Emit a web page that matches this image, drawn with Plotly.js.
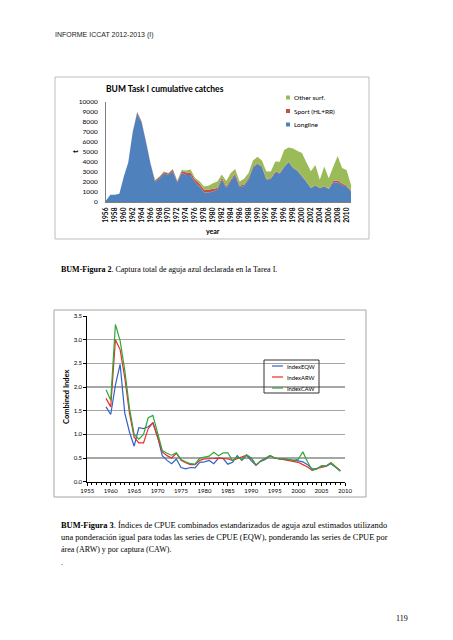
<!DOCTYPE html>
<html><head><meta charset="utf-8">
<script src="https://cdn.plot.ly/plotly-3.0.1.min.js"></script>
<style>html,body{margin:0;padding:0;background:#fff;}#chart{width:453px;height:640px;}</style>
</head><body><div id="chart"></div>
<script>
// ---- Figure 2: cumulative catches ----
const catchYears = [1956,1957,1958,1959,1960,1961,1962,1963,1964,1965,1966,1967,1968,1969,1970,1971,1972,1973,1974,1975,1976,1977,1978,1979,1980,1981,1982,1983,1984,1985,1986,1987,1988,1989,1990,1991,1992,1993,1994,1995,1996,1997,1998,1999,2000,2001,2002,2003,2004,2005,2006,2007,2008,2009,2010,2011];
const longline = [150,730,730,830,2540,3950,7000,8900,7950,5950,3800,2050,2350,2850,2700,3100,1950,2900,2700,2700,1950,1550,950,950,1050,1220,2250,1390,2100,2700,1500,1600,2250,3450,3800,3500,2250,2300,2950,2850,3500,4000,3400,3100,2550,2000,1380,1650,1380,1550,1290,1950,1950,1700,1550,1050];
const sport = [0,0,0,0,0,30,30,100,100,50,50,100,150,150,150,150,120,200,250,250,270,270,270,270,270,170,200,160,150,150,150,120,150,100,80,80,80,80,100,80,60,60,60,60,60,50,40,40,40,40,40,200,200,150,100,80];
const otherSurf = [0,0,0,0,0,0,0,0,0,0,0,50,50,50,50,50,50,100,200,300,170,250,330,400,550,660,300,550,650,450,400,600,500,600,650,570,720,670,1000,1100,1640,1400,1900,1940,2300,1900,1650,2000,800,1950,1050,1350,2450,1550,1550,570];
const catchNames = ['Longline','Sport (HL+RR)','Other surf.'];
const catchColors = ['#4F81BD','#C0504D','#9BBB59'];
const catchTickYears = [1956,1958,1960,1962,1964,1966,1968,1970,1972,1974,1976,1978,1980,1982,1984,1986,1988,1990,1992,1994,1996,1998,2000,2002,2004,2006,2008,2010];
const catchYTicks = [0,1000,2000,3000,4000,5000,6000,7000,8000,9000,10000];

// ---- Figure 3: combined indices ----
const idxYears = [1959,1960,1961,1962,1963,1964,1965,1966,1967,1968,1969,1970,1971,1972,1973,1974,1975,1976,1977,1978,1979,1980,1981,1982,1983,1984,1985,1986,1987,1988,1989,1990,1991,1992,1993,1994,1995,1996,1997,1998,1999,2000,2001,2002,2003,2004,2005,2006,2007,2008,2009];
const indexEQW = [1.58,1.42,2.04,2.48,1.45,1.05,0.75,1.14,1.12,1.16,1.24,0.95,0.55,0.45,0.38,0.48,0.30,0.27,0.30,0.29,0.41,0.42,0.45,0.38,0.50,0.49,0.37,0.41,0.55,0.45,0.56,0.44,0.35,0.43,0.47,0.55,0.50,0.48,0.48,0.47,0.45,0.44,0.42,0.36,0.27,0.27,0.33,0.33,0.38,0.31,0.23];
const indexARW = [1.76,1.58,3.00,2.79,2.20,1.45,0.94,0.82,0.82,1.12,1.25,0.96,0.63,0.55,0.50,0.60,0.45,0.40,0.36,0.36,0.45,0.48,0.48,0.49,0.50,0.49,0.48,0.45,0.49,0.52,0.56,0.49,0.35,0.44,0.49,0.55,0.50,0.48,0.47,0.45,0.42,0.41,0.36,0.31,0.24,0.28,0.30,0.33,0.40,0.31,0.23];
const indexCAW = [1.94,1.72,3.32,2.98,2.35,1.55,1.00,0.90,1.00,1.35,1.40,1.00,0.66,0.60,0.56,0.61,0.47,0.42,0.38,0.37,0.50,0.52,0.54,0.62,0.55,0.61,0.61,0.44,0.52,0.47,0.57,0.50,0.35,0.44,0.49,0.55,0.50,0.48,0.49,0.47,0.45,0.47,0.63,0.42,0.24,0.27,0.34,0.33,0.40,0.31,0.22];
const idxNames = ['IndexEQW','IndexARW','IndexCAW'];
const idxColors = ['#2F63C8','#EE2A24','#2EA83A'];
const idxXTicks = [1955,1960,1965,1970,1975,1980,1985,1990,1995,2000,2005,2010];
const idxYTicks = [0,0.5,1.0,1.5,2.0,2.5,3.0,3.5];

const W = 453, H = 640;
const px = x => x / W;
const py = y => 1 - y / H;

const catchSeries = [longline, sport, otherSurf];
const traces = [];
catchSeries.forEach((s, i) => {
  traces.push({x: catchYears, y: s, type: 'scatter', mode: 'none', stackgroup: 'catch',
    fillcolor: catchColors[i], name: catchNames[i], xaxis: 'x', yaxis: 'y',
    showlegend: false, hoverinfo: 'skip'});
});
const idxSeries = [indexEQW, indexARW, indexCAW];
idxSeries.forEach((s, i) => {
  traces.push({x: idxYears, y: s, type: 'scatter', mode: 'lines',
    line: {color: idxColors[i], width: 1.2}, name: idxNames[i], xaxis: 'x2', yaxis: 'y2',
    showlegend: false, hoverinfo: 'skip'});
});

const shapes = [
  {type: 'rect', xref: 'paper', yref: 'paper', x0: px(55), x1: px(369), y0: py(77), y1: py(239), line: {color: '#bdbdbd', width: 1}},
  {type: 'rect', xref: 'paper', yref: 'paper', x0: px(54), x1: px(366), y0: py(310), y1: py(497), line: {color: '#a6a6a6', width: 1}},
  {type: 'rect', xref: 'paper', yref: 'paper', x0: px(264), x1: px(319), y0: py(360), y1: py(393), line: {color: '#333', width: 1}}
];
const annotations = [];
const lblFont = {family: 'Lato, "Open Sans", sans-serif', color: '#000'};

// top legend (reverse stacking order)
[2, 1, 0].forEach((k, row) => {
  const yc = 97.5 + row * 13.5;
  shapes.push({type: 'rect', xref: 'paper', yref: 'paper', x0: px(286), x1: px(290), y0: py(yc + 2), y1: py(yc - 2), fillcolor: catchColors[k], line: {width: 0}});
  annotations.push({xref: 'paper', yref: 'paper', x: px(291.5), y: py(yc), xanchor: 'left', yanchor: 'middle', showarrow: false,
    text: catchNames[k], font: Object.assign({size: 6.5}, lblFont)});
});
// bottom legend
idxNames.forEach((n, i) => {
  const yc = 366 + i * 11;
  shapes.push({type: 'line', xref: 'paper', yref: 'paper', x0: px(272), x1: px(283), y0: py(yc), y1: py(yc), line: {color: idxColors[i], width: 1.2}});
  annotations.push({xref: 'paper', yref: 'paper', x: px(284.5), y: py(yc), xanchor: 'left', yanchor: 'middle', showarrow: false,
    text: n, font: Object.assign({size: 5.8}, lblFont)});
});

function txt(x, y, text, opts) {
  annotations.push(Object.assign({xref: 'paper', yref: 'paper', x: px(x), y: py(y), showarrow: false, text: text,
    xanchor: 'left', yanchor: 'middle'}, opts));
}
const serif = 'Liberation Serif, "Times New Roman", serif';
txt(53, 35, 'INFORME ICCAT 2012-2013 (I)', {font: {family: 'Liberation Sans, Arial, sans-serif', size: 7, color: '#222'}});
txt(165, 88.5, '<b>BUM Task I cumulative catches</b>', {xanchor: 'center', font: Object.assign({size: 8.5}, lblFont)});
txt(75, 152, '<b>t</b>', {xanchor: 'center', textangle: -90, font: Object.assign({size: 8}, lblFont)});
txt(213, 231, '<b>year</b>', {xanchor: 'center', font: Object.assign({size: 7}, lblFont)});
txt(66, 397, '<b>Combined Index</b>', {xanchor: 'center', textangle: -90, font: Object.assign({size: 7.5}, lblFont)});
txt(59, 269, '<b>BUM-Figura 2</b>. Captura total de aguja azul declarada en la Tarea I.', {font: {family: serif, size: 8, color: '#000'}});
txt(59, 525, '<b>BUM-Figura 3</b>. Índices de CPUE combinados estandarizados de aguja azul estimados utilizando', {font: {family: serif, size: 8.4, color: '#000'}});
txt(59, 537, 'una ponderación igual para todas las series de CPUE (EQW), ponderando las series de CPUE por', {font: {family: serif, size: 8.4, color: '#000'}});
txt(59, 549, 'área (ARW) y por captura (CAW).', {font: {family: serif, size: 8, color: '#000'}});
txt(59, 562, '.', {font: {family: serif, size: 8, color: '#000'}});
txt(402, 618, '119', {xanchor: 'center', font: {family: serif, size: 8, color: '#000'}});

const layout = {
  width: W, height: H, margin: {l: 0, r: 0, t: 0, b: 0},
  paper_bgcolor: '#fff', plot_bgcolor: 'rgba(0,0,0,0)', showlegend: false,
  font: lblFont,
  xaxis: {domain: [px(106), px(351)], range: [1956, 2011], anchor: 'y', tickmode: 'array', tickvals: catchTickYears,
    ticktext: catchTickYears.map(String), tickangle: -90, tickfont: {size: 6.5, weight: 'bold'},
    showline: true, linecolor: '#7f7f7f', linewidth: 1, showgrid: false, zeroline: false, ticks: '', ticklabelstandoff: 2},
  yaxis: {domain: [py(202), py(102)], range: [0, 10000], anchor: 'x', tickmode: 'array', tickvals: catchYTicks,
    ticktext: catchYTicks.map(String), tickfont: {size: 6.5}, showline: true, linecolor: '#7f7f7f', linewidth: 1,
    showgrid: false, zeroline: false, ticks: '', ticklabelstandoff: 6},
  xaxis2: {domain: [px(87.3), px(345)], range: [1955, 2010], anchor: 'y2', tickmode: 'array', tickvals: idxXTicks,
    tickfont: {size: 6}, showline: true, linecolor: '#000', linewidth: 1, showgrid: false, zeroline: false,
    ticks: 'outside', ticklen: 3, tickcolor: '#000',
    minor: {dtick: 1, tick0: 1955, ticks: 'outside', ticklen: 2, tickcolor: '#000', showgrid: false}},
  yaxis2: {domain: [py(481.7), py(316)], range: [0, 3.5], anchor: 'x2', tickmode: 'array', tickvals: idxYTicks,
    tickformat: '.1f', tickfont: {size: 6}, showline: true, linecolor: '#000', linewidth: 1,
    showgrid: true, gridcolor: '#a6a6a6', gridwidth: 1.5, zeroline: false, ticks: 'outside', ticklen: 3, tickcolor: '#000'},
  shapes: shapes, annotations: annotations
};
Plotly.newPlot('chart', traces, layout, {staticPlot: true, displayModeBar: false});
</script></body></html>
